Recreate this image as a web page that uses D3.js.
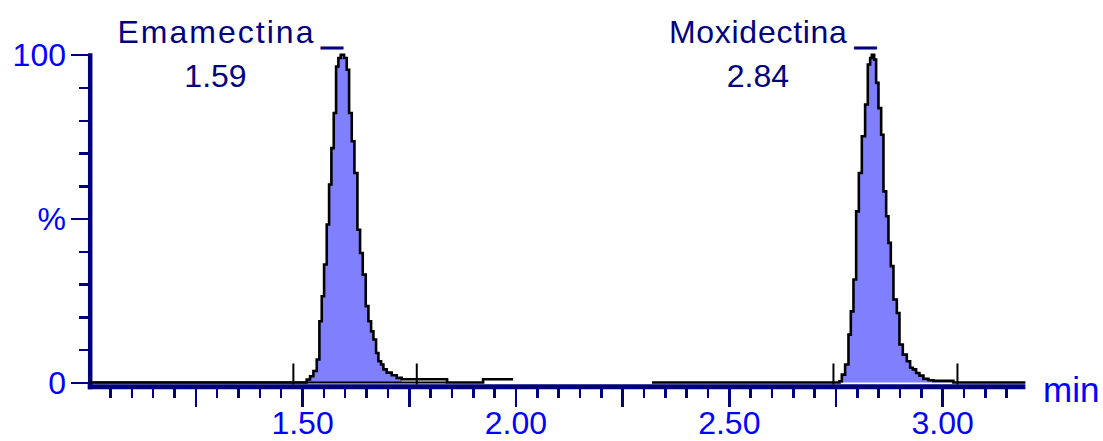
<!DOCTYPE html>
<html>
<head>
<meta charset="utf-8">
<script src="https://cdn.jsdelivr.net/npm/d3@7"></script>
<style>
  html, body { margin: 0; padding: 0; background: #fff; }
  svg { display: block; font-family: "Liberation Sans", Arial, sans-serif; }
</style>
</head>
<body>
<svg id="chart" width="1103" height="441"></svg>
<script>
// chromatogram trace: retention time (min) and relative intensity (%), step samples
// null = no signal recorded in that stretch
const traceTime = [
  1.0000, 1.5109, 1.5187, 1.5266, 1.5344, 1.5406, 1.5461, 1.5516, 1.5578, 1.5633,
  1.5687, 1.5742, 1.5797, 1.5851, 1.5906, 1.5984, 1.6047, 1.6102, 1.6164, 1.6227,
  1.6297, 1.6359, 1.6422, 1.6492, 1.6555, 1.6617, 1.6672, 1.6734, 1.6789, 1.6851,
  1.6906, 1.6984, 1.7101, 1.7218, 1.7335, 1.8398, 1.9242, 1.9945, 1.9950,
  2.3200, 2.7593, 2.7648, 2.7726, 2.7804, 2.7859, 2.7921, 2.7984, 2.8047, 2.8117,
  2.8194, 2.8257, 2.8312, 2.8351, 2.8406, 2.8452, 2.8507, 2.8570, 2.8624, 2.8687,
  2.8741, 2.8796, 2.8858, 2.8937, 2.8999, 2.9077, 2.9171, 2.9249, 2.9312, 2.9389,
  2.9467, 2.9561, 2.9678, 2.9795, 3.0264, 3.1950
];
const traceInt = [
  0, 0.9, 1.9, 3.5, 7.0, 18.7, 26.3, 36.0, 48.2, 60.4,
  71.5, 82.2, 96.4, 99.0, 100, 99.0, 95.4, 82.2, 73.6, 63.9,
  46.6, 39.5, 32.9, 23.3, 18.7, 15.6, 13.1, 9.0, 6.5, 5.5,
  4.0, 3.0, 2.2, 1.4, 1.0, 0, 1.0, 1.0, null,
  0, 0.4, 2.4, 5.5, 14.6, 21.7, 31.4, 52.2, 63.9, 75.1,
  84.8, 97.0, 99.0, 100, 98.5, 91.4, 83.7, 75.6, 58.3, 50.7,
  42.6, 35.5, 25.3, 21.2, 11.6, 8.5, 6.5, 4.5, 4.0, 2.9,
  2.1, 1.1, 0.7, 0.5, 0, 0
];

// integrated peaks
const peakNames = ["Emamectina", "Moxidectina"];
const peakRT = [1.59, 2.84];
const peakStart = [1.4796, 2.7452];
const peakEnd = [1.7688, 3.0358];
const fillFrom = [1.5109, 2.7593];
const fillTo = [1.7335, 3.0264];
// zero line drawn under the first peak
const zeroFrom = 1.0, zeroTo = 1.8398;

// axis ticks
const xMinorTicks = d3.range(21, 64).map(i => +(i * 0.05).toFixed(2));
const xMajorTicks = [1.25, 1.5, 1.75, 2.0, 2.25, 2.5, 2.75, 3.0];
const xTickLabels = { 1.5: "1.50", 2: "2.00", 2.5: "2.50", 3: "3.00" };
const yMinorTicks = [0, 10, 20, 30, 40, 50, 60, 70, 80, 90, 100];
const yMajorTicks = [0, 50, 100];
const yTickLabels = { 0: "0", 50: "%", 100: "100" };

const navy = "#000080", blue = "#0000ff", peakFill = "#8080ff";
const nameWidth = { Emamectina: 196, Moxidectina: 178 };

const svg = d3.select("#chart");
svg.append("rect").attr("width", 1103).attr("height", 441).attr("fill", "#fff");

const x = d3.scaleLinear().domain([1.0, 3.195]).range([88.7, 1025.4]);
const y = d3.scaleLinear().domain([0, 100]).range([382.5, 54.7]);

const trace = traceTime.map((t, i) => ({ t, v: traceInt[i] }));

// peak areas
peakNames.forEach((name, k) => {
  const pts = trace.filter(d => d.v != null && d.t >= fillFrom[k] && d.t <= fillTo[k]);
  svg.append("path")
    .datum(pts)
    .attr("fill", peakFill)
    .attr("d", d3.area()
      .curve(d3.curveStepAfter)
      .x(d => x(d.t))
      .y0(y(0))
      .y1(d => y(d.v)));
});

// x axis
svg.append("line")
  .attr("x1", x(1.0) - 1).attr("x2", x.range()[1])
  .attr("y1", 386.8).attr("y2", 386.8)
  .attr("stroke", navy).attr("stroke-width", 5);

const gxMinor = svg.append("g")
  .attr("transform", "translate(0,389)")
  .call(d3.axisBottom(x).tickValues(xMinorTicks).tickSize(9).tickFormat(""));
const gxMajor = svg.append("g")
  .attr("transform", "translate(0,389)")
  .call(d3.axisBottom(x).tickValues(xMajorTicks).tickSize(18).tickPadding(4)
    .tickFormat(d => xTickLabels[d] || ""));

// y axis
svg.append("line")
  .attr("x1", 90.2).attr("x2", 90.2)
  .attr("y1", y(100) - 1.5).attr("y2", 389.3)
  .attr("stroke", navy).attr("stroke-width", 4.5);

const gyMinor = svg.append("g")
  .attr("transform", "translate(89,0)")
  .call(d3.axisLeft(y).tickValues(yMinorTicks).tickSize(10).tickFormat(""));
const gyMajor = svg.append("g")
  .attr("transform", "translate(89,0)")
  .call(d3.axisLeft(y).tickValues(yMajorTicks).tickSize(18).tickPadding(5)
    .tickFormat(d => yTickLabels[d]));

[gxMinor, gxMajor, gyMinor, gyMajor].forEach(g => {
  g.select(".domain").remove();
  g.selectAll(".tick line")
    .attr("stroke", navy)
    .attr("stroke-width", 2.5)
    .attr("shape-rendering", "crispEdges");
  g.selectAll(".tick text")
    .attr("fill", blue)
    .attr("font-size", 32)
    .attr("font-family", "'Liberation Sans', Arial, sans-serif");
});
gyMajor.selectAll(".tick text").attr("dy", "0.35em");

svg.append("text")
  .attr("x", 1043).attr("y", 402)
  .attr("fill", blue)
  .attr("font-size", 35)
  .text("min");

// zero line and trace
svg.append("line")
  .attr("x1", x(zeroFrom)).attr("x2", x(zeroTo))
  .attr("y1", y(0)).attr("y2", y(0))
  .attr("stroke", "#000").attr("stroke-width", 2);

svg.append("path")
  .datum(trace)
  .attr("fill", "none")
  .attr("stroke", "#000")
  .attr("stroke-width", 2.6)
  .attr("d", d3.line()
    .defined(d => d.v != null)
    .curve(d3.curveStepAfter)
    .x(d => x(d.t))
    .y(d => y(d.v)));

// integration start / end marks
peakStart.concat(peakEnd).forEach(t => {
  svg.append("line")
    .attr("x1", x(t)).attr("x2", x(t))
    .attr("y1", y(0) + 2).attr("y2", y(0) - 19)
    .attr("stroke", "#000").attr("stroke-width", 2);
});

// peak labels
peakNames.forEach((name, k) => {
  const xr = x(peakRT[k]) - 27;
  const w = nameWidth[name];
  svg.append("text")
    .attr("x", xr).attr("y", 43)
    .attr("text-anchor", "end")
    .attr("textLength", w).attr("lengthAdjust", "spacing")
    .attr("fill", navy).attr("font-size", 32)
    .text(name);
  svg.append("text")
    .attr("x", x(peakRT[k]) - 19).attr("y", 43)
    .attr("textLength", 21).attr("lengthAdjust", "spacingAndGlyphs")
    .attr("fill", navy).attr("stroke", navy).attr("stroke-width", 0.8)
    .attr("font-size", 32)
    .text("_");
  svg.append("text")
    .attr("x", xr - w / 2).attr("y", 87)
    .attr("text-anchor", "middle")
    .attr("fill", navy).attr("font-size", 32)
    .text(peakRT[k].toFixed(2));
});
</script>
</body>
</html>
